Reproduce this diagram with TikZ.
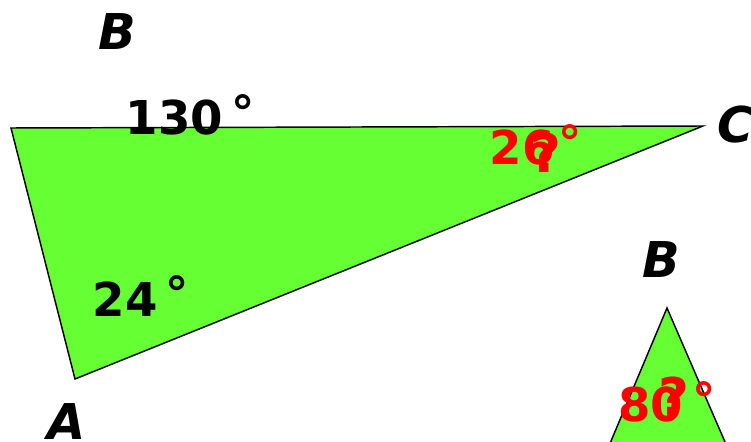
\documentclass[tikz,border=0pt]{standalone}
\usepackage{fontspec}
\setmainfont{DejaVu Sans}
\usepackage{tikz}
\usetikzlibrary{positioning}
\definecolor{TriGreen}{RGB}{102, 255, 51}
\definecolor{AngRed}{RGB}{255, 0, 0}
\newcommand{\dg}{\raisebox{4pt}{°}}

\begin{document}
\begin{tikzpicture}[x=0.75pt, y=-0.75pt,
    tri/.style={draw=black, fill=TriGreen, line width=1.1pt, line join=miter},
    vlabel/.style={font=\fontsize{37}{37}\selectfont\bfseries\itshape, inner sep=0pt},
    angle/.style={font=\fontsize{35}{35}\selectfont\bfseries, inner sep=0pt},
    unknown/.style={angle, text=AngRed},
    qmark/.style={unknown, font=\fontsize{40}{40}\selectfont\bfseries}
  ]
  \useasboundingbox (0,0) rectangle (751,442);
  % big triangle
  \coordinate (A) at (75,379);
  \coordinate (B) at (11,128);
  \coordinate (C) at (703,126);
  \filldraw[tri] (A) -- (B) -- (C) -- cycle;

  % small triangle, cut by the lower edge
  \coordinate (B2) at (667,308);
  \coordinate (L2) at (598,472);
  \coordinate (R2) at (738,472);
  \begin{scope}
    \clip (0,0) rectangle (751,442);
    \filldraw[tri] (L2) -- (B2) -- (R2);
  \end{scope}

  \node[vlabel] (labB) at (117,32) {B};
  \node[vlabel] (labA) at (67,422) {A};
  \node[vlabel] (labC) at (736,125) {C};
  \node[vlabel] (labB2) at (661,260) {B};

  \node[angle] (angB) at (190,115) {130\hspace{6pt}\dg};
  \node[angle] (angA) at (141,296) {24\hspace{6pt}\dg};

  \node[unknown] (angC) at (536,145) {26\hspace{3pt}\dg};
  \node[qmark] (qC) at (546,153) {?};
  \node[unknown] (angB2) at (667,402) {80\hspace{7pt}\dg};
  \node[qmark] (qB2) at (674,397) {?};
\end{tikzpicture}
\end{document}
